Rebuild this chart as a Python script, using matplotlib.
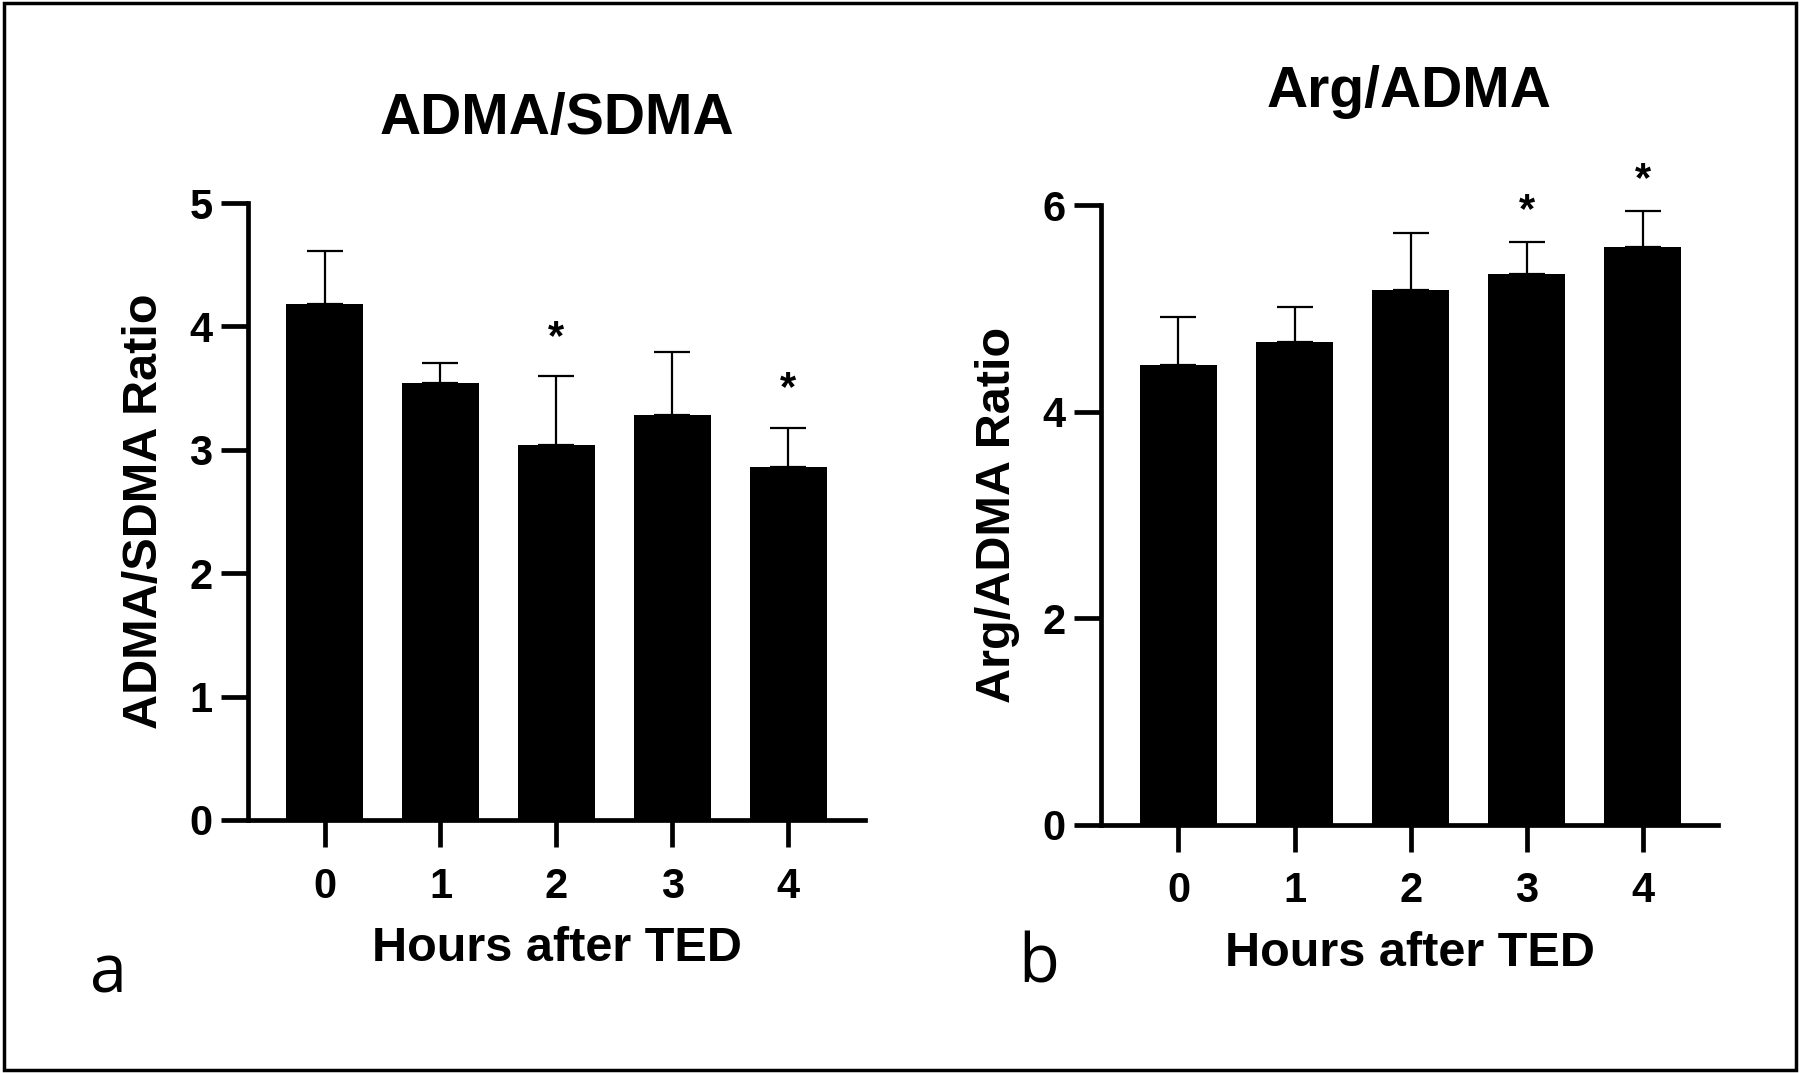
import matplotlib
matplotlib.use("Agg")
import matplotlib.pyplot as plt
from matplotlib.patches import Rectangle

hours = [0, 1, 2, 3, 4]
tick_labels = ["0", "1", "2", "3", "4"]

adma_sdma_mean = [4.18, 3.54, 3.04, 3.28, 2.86]
adma_sdma_sem = [0.43, 0.16, 0.56, 0.51, 0.32]
adma_sdma_sig = [False, False, True, False, True]

arg_adma_mean = [4.45, 4.68, 5.18, 5.33, 5.60]
arg_adma_sem = [0.47, 0.33, 0.55, 0.31, 0.34]
arg_adma_sig = [False, False, False, True, True]

plt.rcParams["font.family"] = ["Liberation Sans", "DejaVu Sans"]
plt.rcParams["font.weight"] = "bold"

fig = plt.figure(figsize=(18, 10.73), dpi=100)
fig.patches.append(Rectangle((0.002, 0.003), 0.996, 0.994, transform=fig.transFigure,
                             fill=False, edgecolor="black", linewidth=2.5))

AX_LW = 3.4


def draw_panel(rect, mean, sem, sig, ymax, yticks, xlim, title, title_pad, star_off,
               ylabel, letter, letter_xy):
    ax = fig.add_axes(rect)
    ax.bar(hours, mean, width=0.665, color="black", zorder=2)
    # upper error bars only, drawn behind the bars
    ax.errorbar(hours, mean, yerr=[[0] * len(sem), sem], fmt="none", ecolor="black",
                elinewidth=1.6, capsize=13, capthick=1.6, zorder=1)
    for x, m, s, flag in zip(hours, mean, sem, sig):
        if flag:
            ax.annotate("*", (x, m + s), xytext=(0, star_off), textcoords="offset points",
                        ha="center", va="bottom", fontsize=30, fontweight="bold")
    ax.set_ylim(0, ymax)
    ax.set_xlim(*xlim)
    ax.set_yticks(yticks)
    ax.set_xticks(hours)
    ax.set_xticklabels(tick_labels)
    for s in ("top", "right"):
        ax.spines[s].set_visible(False)
    for s in ("left", "bottom"):
        ax.spines[s].set_linewidth(AX_LW)
    ax.tick_params(axis="both", length=19.5, width=AX_LW, labelsize=30)
    ax.tick_params(axis="y", pad=6)
    ax.tick_params(axis="x", pad=14)
    ax.set_title(title, fontsize=41, fontweight="bold", pad=title_pad)
    ax.set_xlabel("Hours after TED", fontsize=35, fontweight="bold", labelpad=14)
    ax.set_ylabel(ylabel, fontsize=35, fontweight="bold", labelpad=16)
    fig.text(letter_xy[0], letter_xy[1], letter, fontsize=48, fontweight="normal",
             family=["Open Sans", "DejaVu Sans"], ha="center", va="center")
    return ax


draw_panel([0.1378, 0.2358, 0.3428, 0.575], adma_sdma_mean, adma_sdma_sem, adma_sdma_sig,
           5, [0, 1, 2, 3, 4, 5], (-0.66, 4.663), "ADMA/SDMA", 50, 13,
           "ADMA/SDMA Ratio", "a", (0.060, 0.092))
draw_panel([0.6117, 0.2315, 0.3427, 0.5772], arg_adma_mean, arg_adma_sem, arg_adma_sig,
           6, [0, 2, 4, 6], (-0.667, 4.647), "Arg/ADMA", 71, 8,
           "Arg/ADMA Ratio", "b", (0.577, 0.101))

fig.savefig("out.png", dpi=100)
